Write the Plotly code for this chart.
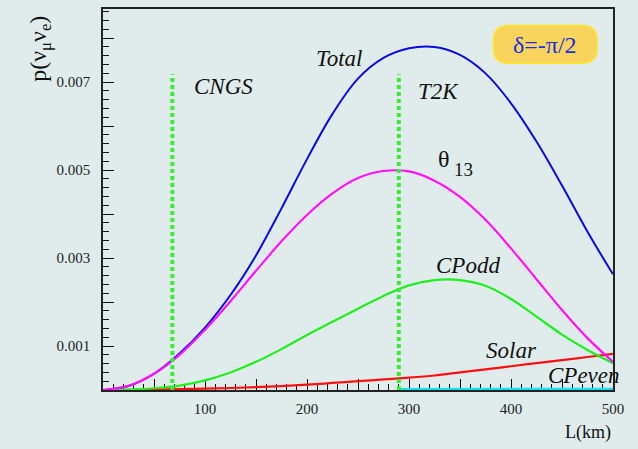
import numpy as np
import plotly.graph_objects as go

# ---------------- data (probabilities in units of 1e-3) ----------------
L_km = [0, 25, 50, 75, 100, 125, 150, 175, 200, 225, 250, 275, 300, 325, 350, 375, 400, 425, 450, 475, 500]
total = [0, 0.09, 0.37, 0.83, 1.42, 2.16, 3.06, 4.13, 5.25, 6.28, 7.08, 7.55, 7.77, 7.80, 7.62, 7.20, 6.52, 5.65, 4.65, 3.60, 2.63]
theta13 = [0, 0.094, 0.37, 0.80, 1.37, 2.02, 2.71, 3.38, 3.98, 4.47, 4.82, 4.98, 4.97, 4.76, 4.39, 3.87, 3.22, 2.52, 1.82, 1.18, 0.64]
cpodd = [0, 0.01, 0.04, 0.10, 0.22, 0.40, 0.64, 0.93, 1.25, 1.55, 1.85, 2.14, 2.38, 2.50, 2.50, 2.37, 2.07, 1.67, 1.26, 0.91, 0.61]
solar = [0, 0.002, 0.008, 0.018, 0.03, 0.045, 0.065, 0.09, 0.12, 0.16, 0.20, 0.24, 0.28, 0.33, 0.40, 0.47, 0.54, 0.61, 0.68, 0.75, 0.82]
cpeven_L = [290, 350, 400, 450, 500]
cpeven = [0.015, 0.015, 0.02, 0.02, 0.025]

exp_names = ["CNGS", "T2K"]
exp_L = [68, 290]
exp_top = 7.18

x_tickvals = [0, 50, 100, 150, 200, 250, 300, 350, 400, 450, 500]
x_ticktext = ["", "", "100", "", "200", "", "300", "", "400", "", "500"]
y_tickvals = [0.001, 0.002, 0.003, 0.004, 0.005, 0.006, 0.007, 0.008]
y_ticktext = ["0.001", "", "0.003", "", "0.005", "", "0.007", ""]

scale = 1e-3
FONT = "Liberation Serif, Times New Roman, Times, serif"
BG = "#e0eceb"

# plot area in pixels (for decorations)
PX_L, PX_R, PX_T, PX_B = 103, 613, 7, 390
W, H = 638, 449


def px(x):
    return (x - PX_L) / (PX_R - PX_L)


def py(y):
    return (PX_B - y) / (PX_B - PX_T)


fig = go.Figure()

fig.add_trace(go.Scatter(x=L_km, y=np.array(total) * scale, mode="lines",
                         line=dict(color="#0a0ae6", width=2, shape="spline")))
fig.add_trace(go.Scatter(x=L_km, y=np.array(solar) * scale, mode="lines",
                         line=dict(color="#ff1010", width=2.2, shape="spline")))
fig.add_trace(go.Scatter(x=L_km, y=np.array(cpodd) * scale, mode="lines",
                         line=dict(color="#1fee1f", width=2.2, shape="spline")))
fig.add_trace(go.Scatter(x=L_km, y=np.array(theta13) * scale, mode="lines",
                         line=dict(color="#ff10ff", width=2.2, shape="spline")))
fig.add_trace(go.Scatter(x=cpeven_L, y=np.array(cpeven) * scale, mode="lines",
                         line=dict(color="#10e0f0", width=2.5)))
for name, l in zip(exp_names, exp_L):
    fig.add_trace(go.Scatter(x=[l, l], y=[0, exp_top * scale], mode="lines",
                             line=dict(color="#33ee33", width=4, dash="4px,3px")))

# rounded box behind delta label
bx0, bx1, by0, by1, r = 493.5, 597, 23.5, 61.5, 15
path = (f"M {px(bx0 + r)} {py(by0)} L {px(bx1 - r)} {py(by0)} "
        f"Q {px(bx1)} {py(by0)} {px(bx1)} {py(by0 + r)} "
        f"L {px(bx1)} {py(by1 - r)} Q {px(bx1)} {py(by1)} {px(bx1 - r)} {py(by1)} "
        f"L {px(bx0 + r)} {py(by1)} Q {px(bx0)} {py(by1)} {px(bx0)} {py(by1 - r)} "
        f"L {px(bx0)} {py(by0 + r)} Q {px(bx0)} {py(by0)} {px(bx0 + r)} {py(by0)} Z")
fig.add_shape(type="path", path=path, xref="paper", yref="paper",
              fillcolor="#f8d45c", line=dict(color="#ffe622", width=1.5), layer="above")

ann = []


def label(text, x, y, size=23, italic=True, color="#111111"):
    ann.append(dict(text=(f"<i>{text}</i>" if italic else text), x=px(x), y=py(y),
                    xref="paper", yref="paper", showarrow=False,
                    font=dict(family=FONT, size=size, color=color),
                    xanchor="center", yanchor="middle"))


label("Total", 339, 57)
label("CNGS", 223, 85)
label("T2K", 438, 90)
label("θ", 444, 158, size=24, italic=False)
label("13", 463, 168, size=19, italic=False)
label("CPodd", 467.5, 265)
label("Solar", 511.5, 350)
label("CPeven", 583.5, 375)
label("L(km)", 588, 433, size=18, italic=False)
label("δ=-π/2", 545, 43, size=24, italic=False, color="#1a2fe0")
ann.append(dict(text="p(ν<sub>μ</sub>ν<sub>e</sub>)", x=px(40), y=py(47), xref="paper", yref="paper",
                showarrow=False, textangle=-90, font=dict(family=FONT, size=24, color="#111111"),
                xanchor="center", yanchor="middle"))

fig.update_layout(
    width=W, height=H,
    margin=dict(l=PX_L, r=W - PX_R, t=PX_T, b=H - PX_B),
    paper_bgcolor=BG, plot_bgcolor=BG,
    showlegend=False,
    annotations=ann,
    font=dict(family=FONT, size=15, color="#222222"),
)
fig.update_xaxes(range=[0, 500], showgrid=False, zeroline=False,
                 tickmode="array", tickvals=x_tickvals, ticktext=x_ticktext,
                 ticks="inside", ticklen=11, tickwidth=1, tickcolor="#111111",
                 minor=dict(dtick=10, ticks="inside", ticklen=6, tickcolor="#111111", showgrid=False),
                 showline=True, linecolor="#222222", linewidth=1.5, mirror=True,
                 tickfont=dict(family=FONT, size=15, color="#222222"),
                 ticklabelstandoff=4, layer="below traces")
fig.update_yaxes(range=[0, 0.008664], showgrid=False, zeroline=False,
                 tickmode="array", tickvals=y_tickvals, ticktext=y_ticktext,
                 ticks="inside", ticklen=11, tickwidth=1, tickcolor="#111111",
                 minor=dict(dtick=0.0002, tick0=0, ticks="inside", ticklen=6, tickcolor="#111111", showgrid=False),
                 showline=True, linecolor="#222222", linewidth=1.5, mirror=True,
                 tickfont=dict(family=FONT, size=15, color="#222222"),
                 ticklabelstandoff=8)

fig.write_html("out.html", config={"displayModeBar": False},
               post_script="document.body.style.margin='0px';")
